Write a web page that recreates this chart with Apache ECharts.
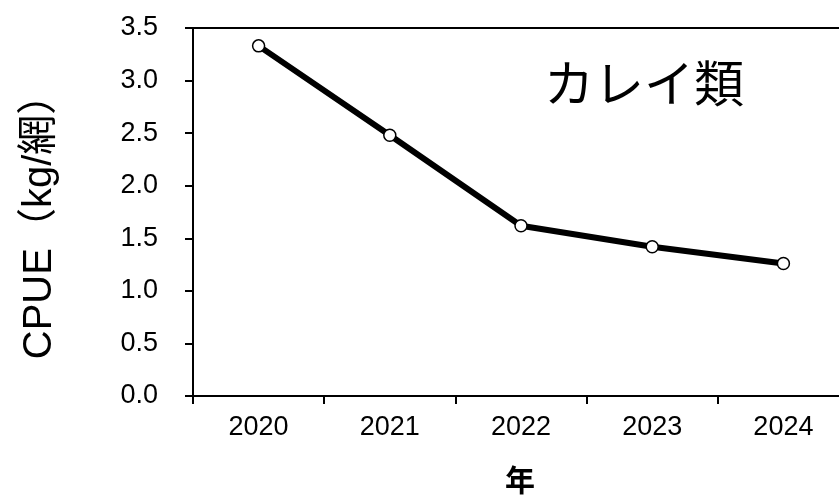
<!DOCTYPE html>
<html><head><meta charset="utf-8">
<script src="https://cdn.jsdelivr.net/npm/echarts@6/dist/echarts.min.js"></script>
<style>html,body{margin:0;padding:0;background:#fff;overflow:hidden}#c{width:849px;height:495px}</style>
</head><body><div id="c"></div>
<script>
const categories = ['2020','2021','2022','2023','2024'];
const cpue = [3.33, 2.48, 1.62, 1.42, 1.26];
const yTicks = {min:0, max:3.5, interval:0.5};
const titleText = 'カレイ類';
const xName = '年';
const yName = 'CPUE（kg/網）';
const font = "'Liberation Sans', Arial, 'Noto Sans CJK JP', sans-serif";
const chart = echarts.init(document.getElementById('c'));
chart.setOption({
  animation:false,
  backgroundColor:'#fff',
  grid:{left:193, right:0, top:28, height:368},
  graphic:[
    {type:'text', left:544, top:58, style:{text:titleText, font:"50px 'Noto Sans CJK JP', sans-serif", fill:'#000'}},
    {type:'text', x:520, y:480, style:{text:xName, font:"bold 30px 'Noto Sans CJK JP', sans-serif", fill:'#000', align:'center', verticalAlign:'middle'}},
    {type:'text', x:40, y:217, rotation:Math.PI/2, style:{text:yName, font:"40px 'Liberation Sans', Arial, 'Noto Sans CJK JP', sans-serif", fill:'#000', align:'center', verticalAlign:'middle'}}
  ],
  xAxis:[{
    type:'category', data:categories, boundaryGap:true,
    axisLine:{lineStyle:{color:'#000', width:2}},
    axisTick:{show:true, length:8, lineStyle:{color:'#000', width:2}},
    axisLabel:{color:'#000', fontSize:27, fontFamily:font, margin:18}
  },{
    type:'category', data:categories, position:'top',
    axisLine:{lineStyle:{color:'#000', width:2}},
    axisTick:{show:false}, axisLabel:{show:false}
  }],
  yAxis:{
    type:'value', min:yTicks.min, max:yTicks.max, interval:yTicks.interval,
    axisLine:{show:true, lineStyle:{color:'#000', width:2}},
    axisTick:{show:true, length:8, lineStyle:{color:'#000', width:2}},
    splitLine:{show:false},
    axisLabel:{color:'#000', fontSize:27, fontFamily:font, margin:35, formatter:v=>v.toFixed(1)}
  },
  series:[{
    type:'line', data:cpue, symbol:'circle', symbolSize:12,
    lineStyle:{color:'#000', width:6},
    itemStyle:{color:'#fff', borderColor:'#000', borderWidth:1.5}
  }]
});
</script></body></html>
